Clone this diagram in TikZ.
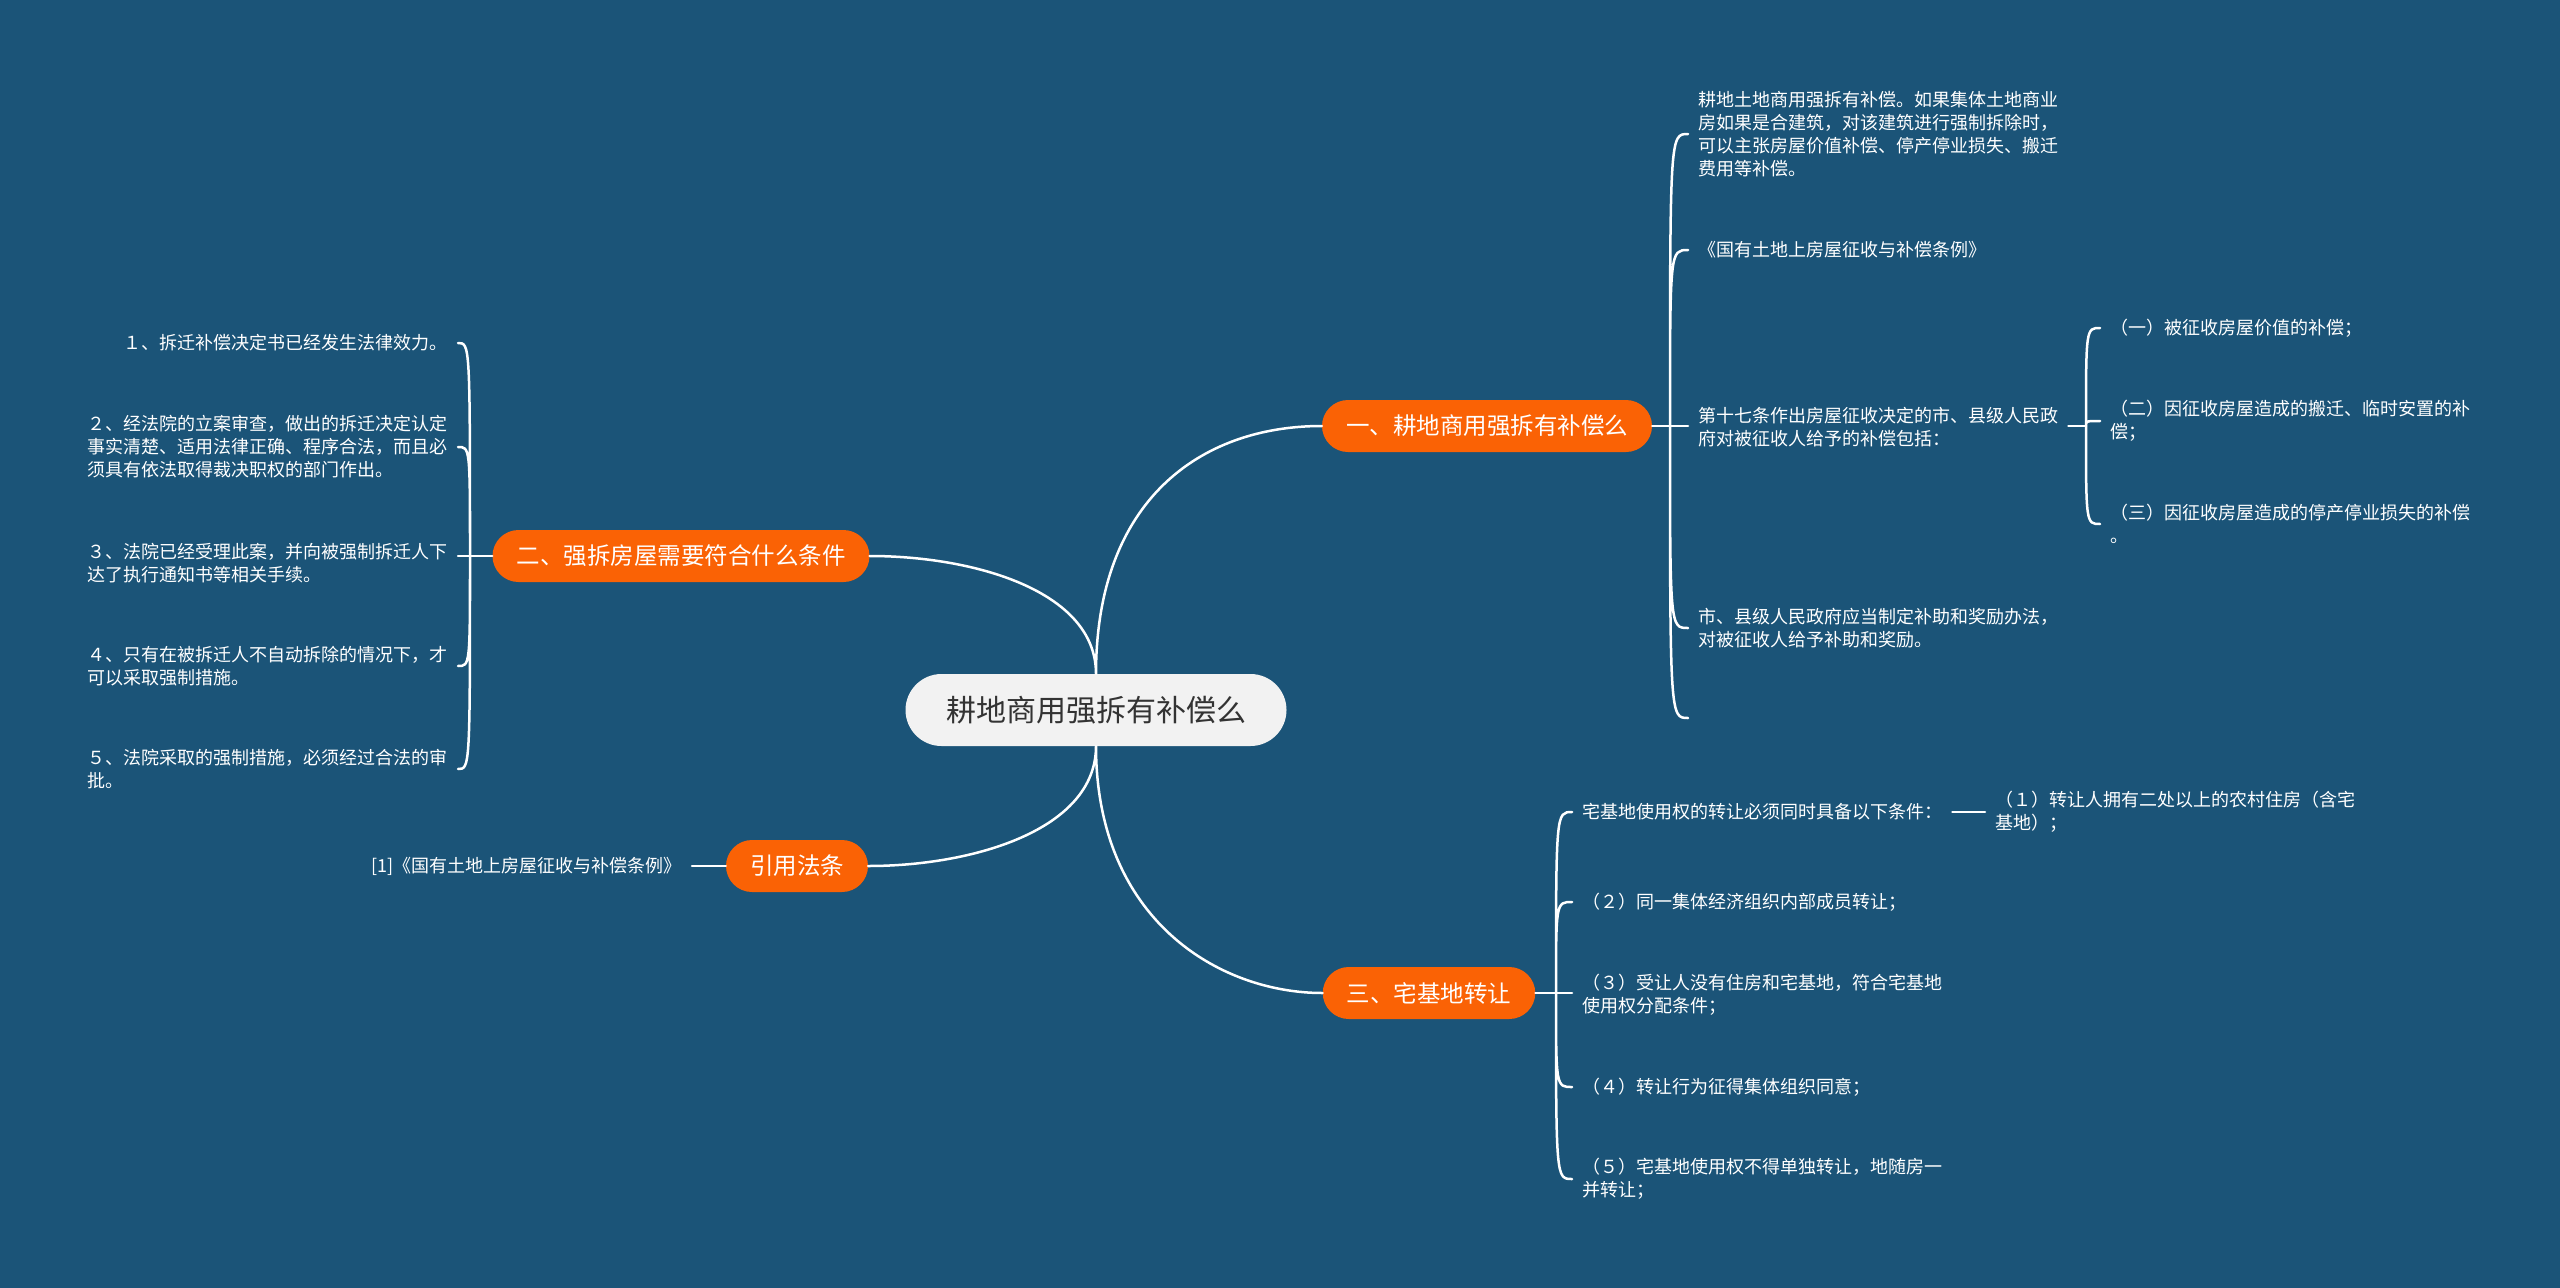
\documentclass[tikz,border=0pt]{standalone}
\usepackage{fontspec}
\setmainfont{Noto Sans CJK SC}
\definecolor{bgblue}{RGB}{27,84,120}
\definecolor{myorange}{RGB}{250,98,5}
\definecolor{rootgray}{RGB}{242,242,242}
\definecolor{darktext}{RGB}{51,51,51}

\tikzset{
  rootbox/.style={fill=rootgray, text=darktext, rounded corners=36pt, minimum width=381pt, minimum height=72pt, font=\fontsize{30}{36}\selectfont},
  branch/.style={fill=myorange, text=white, rounded corners=26pt, minimum height=52pt, inner xsep=24pt, font=\fontsize{23.5}{28}\selectfont},
  leaf/.style={text=white, align=left, inner xsep=10pt, inner ysep=2pt, font=\fontsize{18}{23}\selectfont},
  link/.style={white, line width=2.5pt, line cap=round},
}

\begin{document}
\begin{tikzpicture}[x=1pt,y=-1pt]
		\useasboundingbox (0,0) rectangle (2560,1288);
		\fill[bgblue] (0,0) rectangle (2560,1288);
		
		%Centre and main branches
		\node[rootbox] (root) at (1096,710) {耕地商用强拆有补偿么};
		\node[branch] (b1) at (1487,426) {一、耕地商用强拆有补偿么};
		\node[branch] (b2) at (681,556) {二、强拆房屋需要符合什么条件};
		\node[branch] (law) at (797,866) {引用法条};
		\node[branch] (b3) at (1429,993) {三、宅基地转让};
		
		%Branch one
		\node[leaf, anchor=west] (r1) at (1688,134) {耕地土地商用强拆有补偿。如果集体土地商业\\房如果是合建筑，对该建筑进行强制拆除时，\\可以主张房屋价值补偿、停产停业损失、搬迁\\费用等补偿。};
		\node[leaf, anchor=west] (r2) at (1688,250) {《国有土地上房屋征收与补偿条例》};
		\node[leaf, anchor=west] (r3) at (1688,427) {第十七条作出房屋征收决定的市、县级人民政\\府对被征收人给予的补偿包括：};
		\node[leaf, anchor=west] (r4) at (1688,628) {市、县级人民政府应当制定补助和奖励办法，\\对被征收人给予补助和奖励。};
		\coordinate (r5) at (1688,718);
		\node[leaf, anchor=west] (s1) at (2100,328) {（一）被征收房屋价值的补偿；};
		\node[leaf, anchor=west] (s2) at (2100,421) {（二）因征收房屋造成的搬迁、临时安置的补\\偿；};
		\node[leaf, anchor=west] (s3) at (2100,524) {（三）因征收房屋造成的停产停业损失的补偿\\。};
		
		%Branch two
		\node[leaf, anchor=east] (l1) at (458,343) {１、拆迁补偿决定书已经发生法律效力。};
		\node[leaf, anchor=east] (l2) at (458,447) {２、经法院的立案审查，做出的拆迁决定认定\\事实清楚、适用法律正确、程序合法，而且必\\须具有依法取得裁决职权的部门作出。};
		\node[leaf, anchor=east] (l3) at (458,563) {３、法院已经受理此案，并向被强制拆迁人下\\达了执行通知书等相关手续。};
		\node[leaf, anchor=east] (l4) at (458,666) {４、只有在被拆迁人不自动拆除的情况下，才\\可以采取强制措施。};
		\node[leaf, anchor=east] (l5) at (458,769) {５、法院采取的强制措施，必须经过合法的审\\批。};
		
		%References
		\node[leaf, anchor=east] (lawtxt) at (692,866) {[1]《国有土地上房屋征收与补偿条例》};
		
		%Branch three
		\node[leaf, anchor=west] (t1) at (1572,812) {宅基地使用权的转让必须同时具备以下条件：};
		\node[leaf, anchor=west] (t11) at (1985,812) {（１）转让人拥有二处以上的农村住房（含宅\\基地）；};
		\node[leaf, anchor=west] (t2) at (1572,902) {（２）同一集体经济组织内部成员转让；};
		\node[leaf, anchor=west] (t3) at (1572,995) {（３）受让人没有住房和宅基地，符合宅基地\\使用权分配条件；};
		\node[leaf, anchor=west] (t4) at (1572,1087) {（４）转让行为征得集体组织同意；};
		\node[leaf, anchor=west] (t5) at (1572,1179) {（５）宅基地使用权不得单独转让，地随房一\\并转让；};
		
		%Connectors from the centre
		\draw[link]
		(root.north) .. controls +(0,-173) and +(-122,0) .. (b1.west)
		(root.north) .. controls +(0,-83) and +(104,0) .. (b2.east)
		(root.south) .. controls +(0,84) and +(104,0) .. (law.east)
		(root.south) .. controls +(0,173) and +(-104,0) .. (b3.west);
		
		\coordinate (b1r) at (1670,426);
		\draw[link] (b1.east) -- (r3.west |- b1.east);
		\draw[link]
		(b1r) .. controls (b1r |- r1.west) .. (r1.west)
		(b1r) .. controls (b1r |- r2.west) .. (r2.west)
		(b1r) .. controls (b1r |- r4.west) .. (r4.west)
		(b1r) .. controls (b1r |- r5) .. (r5);
		
		\coordinate (r3r) at (2086,426);
		\draw[link] (r3.east |- r3r) -- (r3r);
		\draw[link]
		(r3r) .. controls (r3r |- s1.west) .. (s1.west)
		(r3r) .. controls (r3r |- s2.west) .. (s2.west)
		(r3r) .. controls (r3r |- s3.west) .. (s3.west);
		
		\coordinate (b2l) at (470,556);
		\draw[link] (b2.west) -- (l3.east |- b2.west);
		\draw[link]
		(b2l) .. controls (b2l |- l1.east) .. (l1.east)
		(b2l) .. controls (b2l |- l2.east) .. (l2.east)
		(b2l) .. controls (b2l |- l4.east) .. (l4.east)
		(b2l) .. controls (b2l |- l5.east) .. (l5.east);
		
		\draw[link] (lawtxt.east) -- (law.west);
		
		\coordinate (b3r) at (1556,993);
		\draw[link] (b3.east) -- (t3.west |- b3.east);
		\draw[link]
		(b3r) .. controls (b3r |- t1.west) .. (t1.west)
		(b3r) .. controls (b3r |- t2.west) .. (t2.west)
		(b3r) .. controls (b3r |- t4.west) .. (t4.west)
		(b3r) .. controls (b3r |- t5.west) .. (t5.west);
		\draw[link] (t1.east) -- (t11.west);
		
	\end{tikzpicture}
\end{document}
